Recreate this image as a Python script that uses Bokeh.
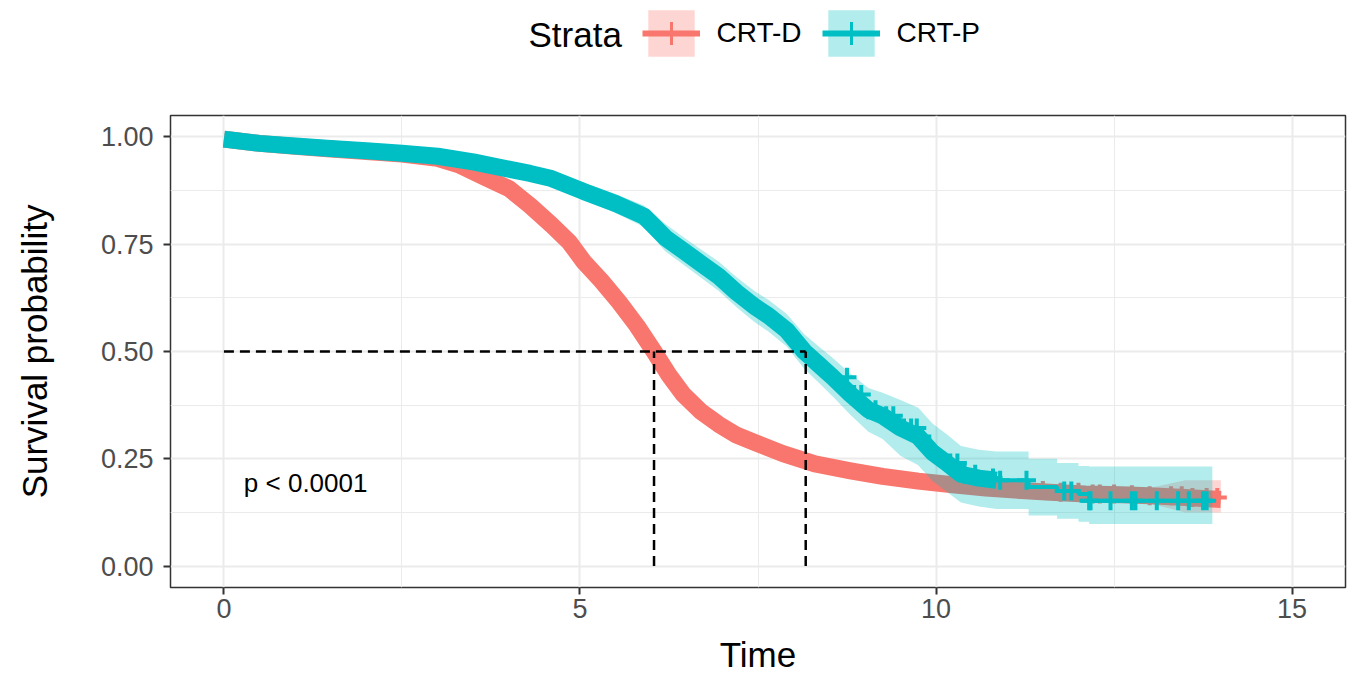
import numpy as np
from bokeh.plotting import figure
from bokeh.layouts import column
from bokeh.models import (FixedTicker, Legend, LegendItem, Range1d,
                          NumeralTickFormatter, Label)
from bokeh.core.properties import value
from bokeh.embed import file_html
from bokeh.resources import INLINE

# ---------------- data ----------------
strata = ["CRT-D", "CRT-P"]
colors = ["#F8766D", "#00BFC4"]

crtd_time = [0, 0.5, 1, 1.5, 2, 2.5, 3, 3.3, 3.65, 4.0, 4.3, 4.6, 4.85, 5.05, 5.3, 5.55, 5.8,
             6.04, 6.25, 6.45, 6.7, 6.95, 7.2, 7.45, 7.85, 8.3, 8.8, 9.25, 9.75, 10.2, 10.7,
             11.2, 11.6, 12.1, 12.6, 13.0, 13.5, 14.0]
crtd_surv = [0.995, 0.985, 0.978, 0.972, 0.966, 0.96, 0.95, 0.935, 0.907, 0.88, 0.84, 0.795,
             0.755, 0.71, 0.665, 0.615, 0.56, 0.50, 0.445, 0.40, 0.36, 0.33, 0.305, 0.288,
             0.262, 0.238, 0.222, 0.209, 0.198, 0.19, 0.182, 0.176, 0.172, 0.168, 0.166,
             0.164, 0.16, 0.155]
crtd_lower = [0.99, 0.982, 0.974, 0.968, 0.962, 0.955, 0.945, 0.93, 0.901, 0.873, 0.832, 0.786,
              0.745, 0.7, 0.654, 0.604, 0.549, 0.489, 0.434, 0.389, 0.349, 0.319, 0.294,
              0.277, 0.251, 0.226, 0.21, 0.196, 0.184, 0.175, 0.166, 0.16, 0.156, 0.152,
              0.149, 0.146, 0.125, 0.125]
crtd_upper = [1.0, 0.988, 0.982, 0.976, 0.97, 0.965, 0.955, 0.94, 0.913, 0.887, 0.848, 0.804,
              0.765, 0.72, 0.676, 0.626, 0.571, 0.511, 0.456, 0.411, 0.371, 0.341, 0.316,
              0.299, 0.273, 0.25, 0.234, 0.222, 0.212, 0.205, 0.198, 0.192, 0.188, 0.184,
              0.183, 0.182, 0.2, 0.2]
crtd_censor = [11.5, 11.75, 12.0, 12.2, 12.3, 12.5, 12.75, 13.0, 13.3, 13.45, 13.6, 13.8, 13.95]

crtp_time = [0, 0.5, 1, 1.5, 2, 2.5, 3, 3.5, 4, 4.3, 4.6, 5.05, 5.5, 5.9, 6.2, 6.45, 6.7, 6.95,
             7.2, 7.45, 7.65, 7.9, 8.15, 8.35, 8.55, 8.8, 9.05, 9.25, 9.5, 9.75, 9.95, 10.15,
             10.35, 10.6, 10.85, 11.3, 11.7, 12.0, 12.15, 13.88]
crtp_surv = [0.995, 0.985, 0.979, 0.973, 0.968, 0.962, 0.955, 0.942, 0.925, 0.915, 0.903,
             0.873, 0.845, 0.815, 0.765, 0.735, 0.705, 0.675, 0.638, 0.605, 0.583, 0.55, 0.50,
             0.47, 0.44, 0.40, 0.364, 0.35, 0.322, 0.302, 0.265, 0.24, 0.214, 0.205, 0.2,
             0.184, 0.175, 0.168, 0.152, 0.152]
crtp_lower = [0.99, 0.98, 0.973, 0.967, 0.961, 0.955, 0.947, 0.933, 0.915, 0.904, 0.891,
              0.853, 0.823, 0.79, 0.733, 0.703, 0.672, 0.641, 0.603, 0.569, 0.546, 0.512,
              0.46, 0.428, 0.395, 0.352, 0.313, 0.296, 0.257, 0.235, 0.198, 0.173, 0.148,
              0.139, 0.133, 0.118, 0.11, 0.103, 0.098, 0.098]
crtp_upper = [1.0, 0.99, 0.985, 0.979, 0.975, 0.969, 0.963, 0.951, 0.935, 0.926, 0.915, 0.893,
              0.867, 0.84, 0.797, 0.767, 0.738, 0.709, 0.673, 0.641, 0.62, 0.588, 0.54,
              0.512, 0.485, 0.448, 0.415, 0.404, 0.387, 0.369, 0.332, 0.307, 0.28, 0.271,
              0.267, 0.25, 0.24, 0.233, 0.232, 0.232]
crtp_censor = [8.75, 8.85, 8.95, 9.05, 9.15, 9.3, 9.4, 9.55, 9.65, 9.73, 9.8, 9.96, 10.2, 10.3,
               10.4, 10.55, 10.8, 10.9, 11.27, 11.8, 11.9, 12.15, 12.17, 12.45, 12.75, 12.8,
               13.1, 13.4, 13.55, 13.75, 13.8]

median_times = [6.04, 8.17]
median_level = 0.5
pval_text = "p < 0.0001"
legend_title = "Strata"

x_ticks = [0, 5, 10, 15]
x_minor = [2.5, 7.5, 12.5]
y_ticks = [0, 0.25, 0.5, 0.75, 1.0]
y_minor = [0.125, 0.375, 0.625, 0.875]

# style: time after which censoring is sparse (curve drawn as thin steps)
dense_end = [14.0, 10.85]

FONT = "Liberation Sans"
W = 1354
TOP_H = 110
MAIN_H = 677 - TOP_H
LEFT = 170

# ---------------- main plot ----------------
p = figure(width=W, height=MAIN_H, output_backend="svg", toolbar_location=None,
           x_range=Range1d(-0.75, 15.75), y_range=Range1d(-0.05, 1.05),
           min_border_left=LEFT, min_border_right=9, min_border_top=5,
           min_border_bottom=90)
p.background_fill_color = "white"
p.border_fill_color = "white"
p.outline_line_color = "#333333"
p.outline_line_width = 1.5

p.xaxis.ticker = FixedTicker(ticks=x_ticks, minor_ticks=x_minor)
p.yaxis.ticker = FixedTicker(ticks=y_ticks, minor_ticks=y_minor)
p.yaxis.formatter = NumeralTickFormatter(format="0.00")
for ax in (p.xaxis, p.yaxis):
    ax.axis_line_color = None
    ax.major_tick_line_color = "#333333"
    ax.major_tick_line_width = 2
    ax.major_tick_out = 7
    ax.major_tick_in = 0
    ax.minor_tick_line_color = None
    ax.major_label_text_color = "#4D4D4D"
    ax.major_label_text_font = FONT
    ax.major_label_text_font_size = "27px"
    ax.axis_label_text_font = FONT
    ax.axis_label_text_font_size = "35px"
    ax.axis_label_text_font_style = "normal"
    ax.axis_label_text_color = "black"
p.xaxis.axis_label = "Time"
p.yaxis.axis_label = "Survival probability"
p.xaxis.major_label_standoff = 4
p.xaxis.axis_label_standoff = 14
p.yaxis.major_label_standoff = 10
p.yaxis.axis_label_standoff = 44

for g in (p.xgrid, p.ygrid):
    g.grid_line_color = "#EBEBEB"
    g.grid_line_width = 2
    g.minor_grid_line_color = "#EBEBEB"
    g.minor_grid_line_width = 1

series = [
    (crtd_time, crtd_surv, crtd_lower, crtd_upper, crtd_censor),
    (crtp_time, crtp_surv, crtp_lower, crtp_upper, crtp_censor),
]

for i, (t, s, lo, up, cen) in enumerate(series):
    col = colors[i]
    ta, sa = np.array(t), np.array(s)
    la, ua = np.array(lo), np.array(up)
    dense = ta <= dense_end[i]
    sparse = ta >= ta[dense][-1]
    p.varea(x=ta[dense], y1=la[dense], y2=ua[dense], fill_color=col, fill_alpha=0.3)
    if sparse.sum() > 1:
        p.varea_step(x=ta[sparse], y1=la[sparse], y2=ua[sparse], step_mode="after",
                     fill_color=col, fill_alpha=0.3)
    p.line(x=ta[dense], y=sa[dense], line_color=col, line_width=17, line_join="round")
    if sparse.sum() > 1:
        p.step(x=ta[sparse], y=sa[sparse], mode="after", line_color=col, line_width=4)
    ca = np.array(cen)
    idx = np.searchsorted(ta, ca, side="right") - 1
    p.scatter(x=ca, y=sa[idx], marker="cross", size=19, line_color=col, line_width=4)

# median lines
p.segment(x0=[0], y0=[median_level], x1=[max(median_times)], y1=[median_level],
          line_color="black", line_width=2.5, line_dash="10 6")
p.segment(x0=median_times, y0=[0] * len(median_times), x1=median_times,
          y1=[median_level] * len(median_times),
          line_color="black", line_width=2.5, line_dash="10 6")

p.text(x=[0.28], y=[0.193], text=[pval_text], text_font=value(FONT),
       text_font_size="26px", text_baseline="middle", text_color="black")

# ---------------- legend strip ----------------
top = figure(width=W, height=TOP_H, output_backend="svg", toolbar_location=None,
             x_range=Range1d(-3, -2), y_range=Range1d(0, 1),
             x_axis_location=None, y_axis_location=None,
             min_border_left=0, min_border_right=0, min_border_top=0, min_border_bottom=0)
top.outline_line_color = None
top.xgrid.visible = False
top.ygrid.visible = False
top.background_fill_color = "white"
top.border_fill_color = "white"

items = []
for i, (t, s, lo, up, cen) in enumerate(series):
    col = colors[i]
    b = top.varea(x=t, y1=lo, y2=up, fill_color=col, fill_alpha=0.3)
    ln = top.line(x=t, y=s, line_color=col, line_width=6)
    sc = top.scatter(x=cen, y=cen, marker="cross", size=19, line_color=col, line_width=3)
    items.append(LegendItem(label=strata[i], renderers=[b, ln, sc]))

GLYPH = 58
legend = Legend(items=items, orientation="horizontal",
                location=(641.5 - LEFT, TOP_H - 61.5))
legend.glyph_width = GLYPH
legend.glyph_height = GLYPH
legend.label_standoff = 17
legend.spacing = 20
legend.padding = 0
legend.margin = 0
legend.label_text_font = FONT
legend.label_text_font_size = "28px"
legend.label_text_color = "black"
legend.border_line_color = None
legend.background_fill_alpha = 0
top.add_layout(legend, "center")

top.add_layout(Label(x=528 - LEFT, y=TOP_H - 34, x_units="screen", y_units="screen",
                     text=legend_title, text_font=FONT, text_font_size="35px",
                     text_baseline="middle", text_color="black"))

layout = column(top, p, spacing=0)
open("out.html", "w").write(file_html(layout, INLINE))
